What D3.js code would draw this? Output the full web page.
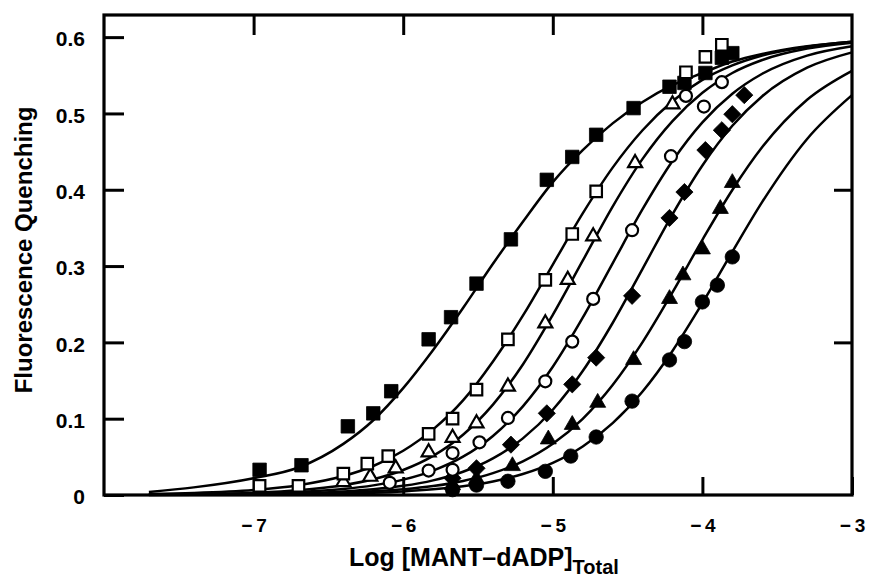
<!DOCTYPE html>
<html>
<head>
<meta charset="utf-8">
<script src="https://cdn.jsdelivr.net/npm/d3@7"></script>
<style>
  html, body { margin: 0; padding: 0; background: #fff; }
  svg { display: block; }
  text { font-family: "Liberation Sans", Arial, Helvetica, sans-serif; font-weight: bold; fill: #000; }
</style>
</head>
<body>
<svg id="chart" width="870" height="586"></svg>
<script>
// ---------- DATA ----------
const xTicks = [-7, -6, -5, -4, -3];
const yTicks = [0, 0.1, 0.2, 0.3, 0.4, 0.5, 0.6];
const yTicksRight = [0.2, 0.4];

// measured points [log conc, quenching]
const filledSquares = [[-6.96,0.033],[-6.68,0.039],[-6.37,0.090],[-6.20,0.107],[-6.08,0.136],[-5.83,0.204],[-5.68,0.233],[-5.51,0.277],[-5.28,0.335],[-5.04,0.413],[-4.87,0.443],[-4.71,0.472],[-4.46,0.507],[-4.22,0.535],[-4.12,0.540],[-3.98,0.553],[-3.87,0.573],[-3.80,0.579]];
const openSquares = [[-6.96,0.012],[-6.70,0.012],[-6.40,0.028],[-6.24,0.041],[-6.10,0.051],[-5.83,0.080],[-5.67,0.100],[-5.51,0.138],[-5.30,0.204],[-5.05,0.282],[-4.87,0.342],[-4.71,0.398],[-4.11,0.554],[-3.98,0.574],[-3.87,0.590]];
const openTriangles = [[-6.40,0.017],[-6.22,0.024],[-6.05,0.035],[-5.83,0.056],[-5.67,0.075],[-5.51,0.094],[-5.30,0.142],[-5.05,0.225],[-4.90,0.282],[-4.73,0.339],[-4.45,0.435],[-4.20,0.512]];
const openCircles = [[-6.09,0.016],[-5.83,0.032],[-5.67,0.033],[-5.67,0.055],[-5.49,0.069],[-5.30,0.101],[-5.05,0.149],[-4.87,0.201],[-4.73,0.257],[-4.47,0.347],[-4.21,0.444],[-4.11,0.523],[-3.99,0.509],[-3.87,0.541]];
const filledDiamonds = [[-5.67,0.022],[-5.51,0.035],[-5.28,0.066],[-5.04,0.107],[-4.87,0.145],[-4.71,0.180],[-4.47,0.261],[-4.22,0.363],[-4.12,0.397],[-3.98,0.452],[-3.87,0.478],[-3.80,0.499],[-3.72,0.524]];
const filledTriangles = [[-5.67,0.013],[-5.51,0.021],[-5.27,0.038],[-5.03,0.073],[-4.87,0.092],[-4.70,0.121],[-4.46,0.177],[-4.22,0.257],[-4.13,0.288],[-4.00,0.322],[-3.88,0.375],[-3.80,0.409]];
const filledCircles = [[-5.67,0.007],[-5.51,0.013],[-5.30,0.018],[-5.05,0.031],[-4.88,0.051],[-4.71,0.076],[-4.47,0.123],[-4.22,0.177],[-4.12,0.201],[-4.00,0.253],[-3.90,0.275],[-3.80,0.312]];

// fitted curves at these x positions
const curveX = [-7.7,-7.4,-7.0,-6.7,-6.4,-6.2,-6.0,-5.8,-5.6,-5.4,-5.2,-5.0,-4.8,-4.6,-4.4,-4.2,-4.0,-3.8,-3.6,-3.3,-3.0];
const fitFilledSquares   = [0.004,0.010,0.022,0.036,0.067,0.098,0.140,0.190,0.245,0.303,0.358,0.410,0.452,0.487,0.515,0.537,0.553,0.568,0.578,0.588,0.594];
const fitOpenSquares     = [0.0014,0.0027,0.0066,0.0128,0.0248,0.038,0.058,0.086,0.124,0.175,0.235,0.302,0.369,0.429,0.478,0.516,0.544,0.563,0.576,0.5875,0.594];
const fitOpenTriangles   = [0.0006,0.0012,0.0031,0.0063,0.0129,0.0206,0.0328,0.0513,0.079,0.1185,0.171,0.236,0.307,0.378,0.4405,0.490,0.527,0.553,0.570,0.585,0.5927];
const fitOpenCircles     = [0.0003,0.0007,0.0019,0.0038,0.0078,0.0126,0.0201,0.032,0.0502,0.0774,0.1162,0.168,0.2323,0.3036,0.3745,0.4376,0.4883,0.5258,0.552,0.5758,0.588];
const fitFilledDiamonds  = [0.0002,0.0004,0.0011,0.0022,0.0046,0.0075,0.0120,0.0192,0.0305,0.048,0.0742,0.1117,0.1624,0.2254,0.2964,0.3678,0.4318,0.4838,0.5226,0.5599,0.580];
const fitFilledTriangles = [0.0002,0.0003,0.0008,0.0015,0.003,0.0048,0.0075,0.0117,0.0184,0.0286,0.0441,0.0671,0.0998,0.1441,0.2003,0.2656,0.3344,0.3997,0.4559,0.518,0.5559];
const fitFilledCircles   = [0.0001,0.0002,0.0005,0.001,0.0019,0.003,0.0047,0.0074,0.0115,0.0178,0.0275,0.0421,0.0636,0.0942,0.1357,0.1888,0.2514,0.3187,0.3841,0.4666,0.524];

// ---------- CHART ----------
const svg = d3.select("#chart");
svg.append("rect").attr("width", 870).attr("height", 586).attr("fill", "#fff");

const x = d3.scaleLinear().domain([-8, -3]).range([104, 852]);
const y = d3.scaleLinear().domain([0, 0.629]).range([495, 15]);

const minus = "\u2212";
const fmtX = d => minus + "\u2009" + Math.abs(d);
const fmtY = d => d === 0 ? "0" : d.toFixed(1);

function styleAxis(g, size) {
  g.select(".domain").remove();
  g.selectAll(".tick line").attr("stroke", "#000").attr("stroke-width", 3);
  g.selectAll(".tick text").attr("font-size", size).attr("font-weight", "bold")
    .attr("font-family", '"Liberation Sans", Arial, sans-serif').attr("fill", "#000");
}

// left
const gl = svg.append("g").attr("transform", `translate(${x(-8)},0)`)
  .call(d3.axisLeft(y).tickValues(yTicks).tickFormat(fmtY).tickSizeInner(-20).tickSizeOuter(0).tickPadding(19));
styleAxis(gl, 21);
gl.selectAll(".tick text").attr("dy", "0.42em");
// right
const gr = svg.append("g").attr("transform", `translate(${x(-3)},0)`)
  .call(d3.axisRight(y).tickValues(yTicksRight).tickFormat("").tickSizeInner(-18).tickSizeOuter(0));
styleAxis(gr, 10);
// bottom
const gb = svg.append("g").attr("transform", `translate(0,${y(0)})`)
  .call(d3.axisBottom(x).tickValues(xTicks).tickFormat(fmtX).tickSizeInner(-18).tickSizeOuter(0).tickPadding(24));
styleAxis(gb, 19);
// top
const gt = svg.append("g").attr("transform", `translate(0,${y(0.629)})`)
  .call(d3.axisTop(x).tickValues(xTicks.slice(0, 4)).tickFormat("").tickSizeInner(-20).tickSizeOuter(0));
styleAxis(gt, 10);

// frame
svg.append("rect")
  .attr("x", x(-8)).attr("y", y(0.629))
  .attr("width", x(-3) - x(-8)).attr("height", y(0) - y(0.629))
  .attr("fill", "none").attr("stroke", "#000").attr("stroke-width", 3.2);

// curves
const line = d3.line().x(d => x(d[0])).y(d => y(d[1])).curve(d3.curveMonotoneX);
[fitFilledSquares, fitOpenSquares, fitOpenTriangles, fitOpenCircles, fitFilledDiamonds, fitFilledTriangles, fitFilledCircles]
  .forEach(vals => {
    svg.append("path")
      .attr("d", line(curveX.map((cx, i) => [cx, vals[i]])))
      .attr("fill", "none").attr("stroke", "#000").attr("stroke-width", 2.5);
  });

// markers
function drawSeries(data, pathStr, filled) {
  svg.append("g").selectAll("path").data(data).join("path")
    .attr("transform", d => `translate(${x(d[0])},${y(d[1])})`)
    .attr("d", pathStr)
    .attr("fill", filled ? "#000" : "#fff")
    .attr("stroke", "#000")
    .attr("stroke-width", filled ? 0.8 : 2.2);
}
const sq = s => d3.symbol(d3.symbolSquare, s * s)();
const circ = r => d3.symbol(d3.symbolCircle, Math.PI * r * r)();
const tri = s => d3.symbol(d3.symbolTriangle, s * s * Math.sqrt(3) / 4)();
const diamond = r => `M0,${-r}L${r},0L0,${r}L${-r},0Z`;

drawSeries(filledCircles, circ(7.2), true);
drawSeries(filledTriangles, tri(16), true);
drawSeries(filledDiamonds, diamond(8.6), true);
drawSeries(openCircles, circ(6), false);
drawSeries(openTriangles, tri(14), false);
drawSeries(filledSquares, sq(13.5), true);
drawSeries(openSquares, sq(11.5), false);

// axis titles
svg.append("text")
  .attr("transform", "translate(23,250) rotate(-90)")
  .attr("text-anchor", "middle").attr("dominant-baseline", "central")
  .attr("font-size", 24)
  .text("Fluorescence Quenching");

const xt = svg.append("text").attr("x", 349).attr("y", 566).attr("font-size", 25);
xt.append("tspan").text("Log [MANT\u2013dADP]");
xt.append("tspan").attr("font-size", 20).attr("dy", 8).text("Total");
</script>
</body>
</html>
